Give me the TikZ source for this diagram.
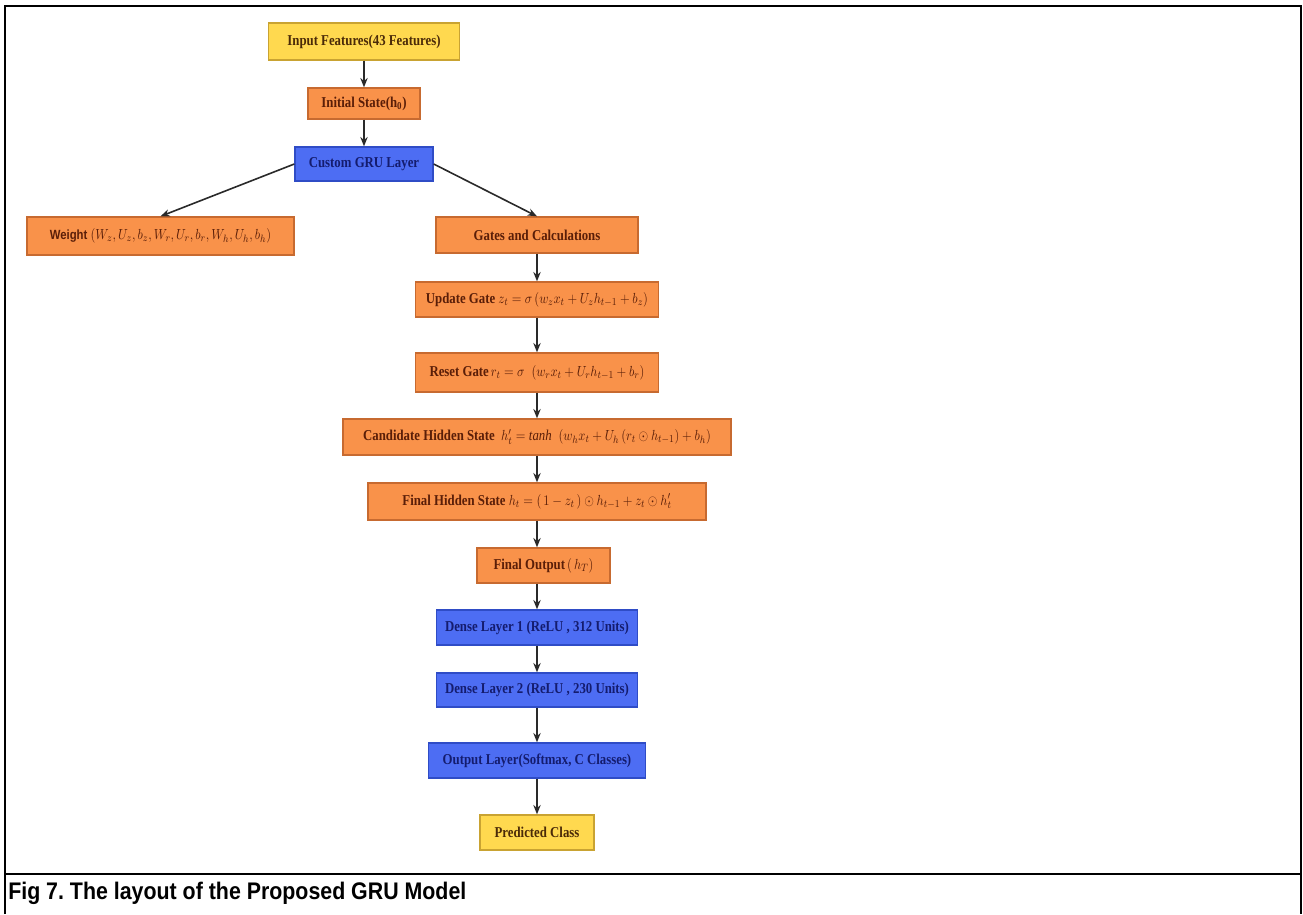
\documentclass[tikz,border=0pt]{standalone}
\usepackage{fontspec}
\usepackage{graphicx}
\setmainfont{Liberation Serif}
\newfontfamily\capfont{Liberation Sans}
\usetikzlibrary{arrows.meta}

\definecolor{orfill}{HTML}{F9924A}
\definecolor{ordraw}{HTML}{C76A30}
\definecolor{ortext}{HTML}{5A1E08}
\definecolor{blfill}{HTML}{4D6DF3}
\definecolor{bldraw}{HTML}{2F4CC6}
\definecolor{bltext}{HTML}{141C6E}
\definecolor{yefill}{HTML}{FFD94F}
\definecolor{yedraw}{HTML}{C9A332}
\definecolor{yetext}{HTML}{4A2A08}
\definecolor{linegray}{HTML}{2A2A2A}

% condensed box lettering
\newcommand{\nar}[1]{\scalebox{0.85}[1]{#1}}

\begin{document}
\frenchspacing
\begin{tikzpicture}[x=0.75pt,y=-0.75pt,
  sz/.style 2 args={minimum width=#1*0.75pt,minimum height=#2*0.75pt},
  boxbase/.style={draw,line width=1pt,inner sep=0pt,
    font=\fontsize{11.3}{13}\selectfont\bfseries},
  obox/.style={boxbase,fill=orfill,draw=ordraw,text=ortext},
  bbox/.style={boxbase,fill=blfill,draw=bldraw,text=bltext},
  ybox/.style={boxbase,fill=yefill,draw=yedraw,text=yetext},
  arr/.style={draw=linegray,line width=1.2pt,
    -{Stealth[length=7pt,width=5.5pt]}},
  frame/.style={line width=2pt,black}]
\useasboundingbox (0,0) rectangle (1303,914);

% page frame and caption rule
\draw[frame] (5,914) -- (5,6) -- (1301,6) -- (1301,914);
\draw[frame] (5,874) -- (1301,874);
\node[anchor=west,inner sep=0pt,font=\capfont\bfseries\fontsize{18}{20}\selectfont]
  (cap) at (8,893) {\scalebox{0.89}[1]{Fig 7. The layout of the Proposed GRU Model}};

% input stage
\node[ybox,sz={191}{37}] (inp) at (364,41.5) {\nar{Input Features(43 Features)}};
\node[obox,sz={112}{31}] (init) at (364,103.5) {\nar{Initial State(h\textsubscript{0})}};
\node[bbox,sz={138}{34}] (gru) at (364,164) {\nar{Custom GRU Layer}};

% branches
\node[obox,sz={267}{38}] (wt) at (160.5,236)
  {\nar{{\capfont\bfseries\fontsize{10}{12}\selectfont Weight}
   $(W_z,U_z,b_z,W_r,U_r,b_r,W_h,U_h,b_h)$}};
\node[obox,sz={202}{36}] (gates) at (537,235) {\nar{Gates and Calculations}};

% gate equations
\node[obox,sz={243}{35}] (upd) at (537,299.5)
  {\nar{Update Gate $z_t=\sigma\,(w_z x_t+U_z h_{t-1}+b_z)$}};
\node[obox,sz={243}{39}] (rst) at (537,372.5)
  {\nar{Reset Gate$\,r_t=\sigma\;\;(w_r x_t+U_r h_{t-1}+b_r)$}};
\node[obox,sz={388}{36}] (cand) at (537,437)
  {\nar{Candidate Hidden State\ \ $h'_t=\mathit{tanh}\;\;(w_h x_t+U_h\,(r_t\odot h_{t-1})+b_h)$}};
\node[obox,sz={338}{37}] (fh) at (537,501.5)
  {\nar{Final Hidden State $h_t=(\,1-z_t\,)\odot h_{t-1}+z_t\odot h'_t$}};
\node[obox,sz={133}{35}] (fo) at (543.5,565.5) {\nar{Final Output$\,(\,h_T)$}};

% dense head
\node[bbox,sz={201}{35}] (d1) at (537,627.5) {\nar{Dense Layer 1 (ReLU , 312 Units)}};
\node[bbox,sz={201}{34}] (d2) at (537,690) {\nar{Dense Layer 2 (ReLU , 230 Units)}};
\node[bbox,sz={217}{35}] (outl) at (537,760.5) {\nar{Output Layer(Softmax, C Classes)}};
\node[ybox,sz={114}{35}] (pred) at (537,832.5) {\nar{Predicted Class}};

% connectors
\draw[arr] (inp) -- (init);
\draw[arr] (init) -- (gru);
\draw[arr] (gru.west) -- (wt.north);
\draw[arr] (gru.east) -- (gates.north);
\draw[arr] (gates) -- (upd);
\draw[arr] (upd) -- (rst);
\draw[arr] (rst) -- (cand);
\draw[arr] (cand) -- (fh);
\draw[arr] (fh.south) -- (fh.south |- fo.north);
\draw[arr] (fh.south |- fo.south) -- (d1.north);
\draw[arr] (d1) -- (d2);
\draw[arr] (d2) -- (outl);
\draw[arr] (outl) -- (pred);
\end{tikzpicture}
\end{document}
